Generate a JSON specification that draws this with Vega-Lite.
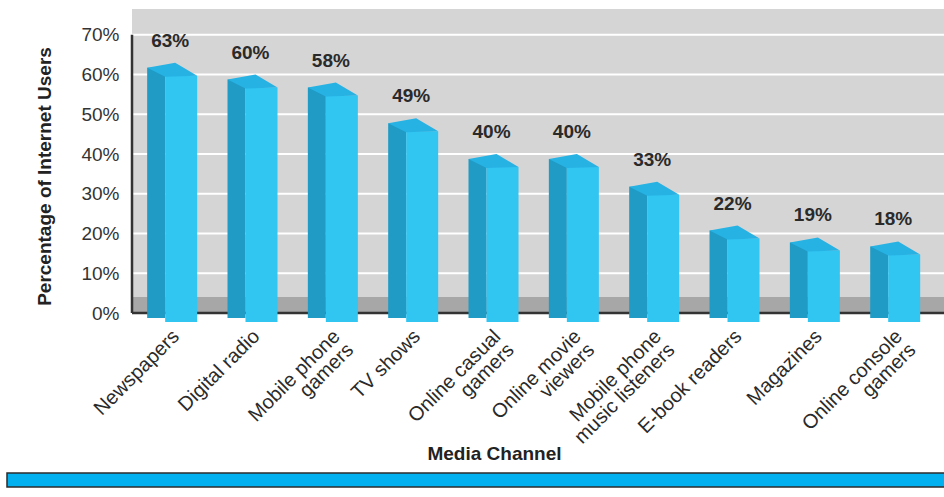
{
  "$schema": "https://vega.github.io/schema/vega-lite/v6.json",
  "background": "#ffffff",
  "padding": {"left": 6, "top": 9, "right": 0, "bottom": 0},
  "config": {"font": "Liberation Sans", "view": {"stroke": null}},
  "spacing": 9,
  "vconcat": [
    {
      "width": 938,
      "height": 304,
      "data": {
        "values": [
          {"channel": "Newspapers", "value": 0.63},
          {"channel": "Digital radio", "value": 0.60},
          {"channel": "Mobile phone\ngamers", "value": 0.58},
          {"channel": "TV shows", "value": 0.49},
          {"channel": "Online casual\ngamers", "value": 0.40},
          {"channel": "Online movie\nviewers", "value": 0.40},
          {"channel": "Mobile phone\nmusic listeners", "value": 0.33},
          {"channel": "E-book readers", "value": 0.22},
          {"channel": "Magazines", "value": 0.19},
          {"channel": "Online console\ngamers", "value": 0.18}
        ]
      },
      "layer": [
        {
          "data": {"values": [{}]},
          "mark": {"type": "rect", "color": "#d5d5d5"},
          "encoding": {
            "x": {
              "datum": "Newspapers", "type": "nominal", "bandPosition": 0,
              "scale": {
                "domain": ["Newspapers", "Digital radio", "Mobile phone\ngamers", "TV shows", "Online casual\ngamers", "Online movie\nviewers", "Mobile phone\nmusic listeners", "E-book readers", "Magazines", "Online console\ngamers"],
                "range": [125, 938], "paddingInner": 0, "paddingOuter": 0.06, "align": 0
              }
            },
            "x2": {"datum": "Online console\ngamers", "bandPosition": 1.12},
            "y": {"datum": 0, "type": "quantitative", "scale": {"domain": [0, 0.765], "nice": false}},
            "y2": {"datum": 0.765}
          }
        },
        {
          "data": {"values": [{"g": 0.1}, {"g": 0.2}, {"g": 0.3}, {"g": 0.4}, {"g": 0.5}, {"g": 0.6}, {"g": 0.7}]},
          "mark": {"type": "rule", "color": "#ffffff", "strokeWidth": 2},
          "encoding": {
            "y": {"field": "g", "type": "quantitative"}
          }
        },
        {
          "data": {"values": [{}]},
          "mark": {"type": "rect", "color": "#a7a7a7"},
          "encoding": {
            "x": {"datum": "Newspapers", "type": "nominal", "bandPosition": 0},
            "x2": {"datum": "Online console\ngamers", "bandPosition": 1.12},
            "y": {"datum": 0, "type": "quantitative"},
            "y2": {"datum": 0.04}
          }
        },
        {
          "data": {"values": [{}]},
          "mark": {"type": "rule", "color": "#333", "strokeWidth": 2.5},
          "encoding": {
            "x": {"datum": "Newspapers", "type": "nominal", "bandPosition": 0},
            "y": {"datum": 0, "type": "quantitative"},
            "y2": {"datum": 0.7}
          }
        },
        {
          "data": {"values": [{}]},
          "mark": {"type": "rule", "color": "#333", "strokeWidth": 2.5},
          "encoding": {
            "x": {"datum": "Newspapers", "type": "nominal", "bandPosition": 0},
            "x2": {"datum": "Online console\ngamers", "bandPosition": 1.12},
            "y": {"datum": 0, "type": "quantitative"}
          }
        },
        {
          "mark": {"type": "bar", "color": "#1f9bc5", "width": 18, "xOffset": -16, "yOffset": 5, "y2Offset": 5},
          "encoding": {
            "x": {
              "field": "channel", "type": "nominal", "sort": null,
              "axis": {
                "zindex": 1,
                "title": "Media Channel",
                "titleFontSize": 19, "titleFontWeight": "bold", "titleColor": "#222",
                "titleX": 487, "titleY": 140, "titleBaseline": "middle", "titleAlign": "center",
                "labelAngle": -45, "labelAlign": "right", "labelBaseline": "middle",
                "labelFontSize": 20, "labelColor": "#2a2a2a", "labelPadding": 20, "labelOffset": 4,
                "labelExpr": "split(datum.label, '\\n')", "labelLineHeight": 19,
                "ticks": false, "domain": false, "grid": false
              }
            },
            "y": {
              "field": "value", "type": "quantitative",
              "axis": {
                "zindex": 1,
                "values": [0, 0.1, 0.2, 0.3, 0.4, 0.5, 0.6, 0.7],
                "format": ".0%",
                "offset": -125,
                "title": "Percentage of Internet Users",
                "titleFontSize": 19, "titleFontWeight": "bold", "titleColor": "#222",
                "titleX": -88, "titleY": 167, "titleAngle": -90, "titleBaseline": "middle", "titleAlign": "center",
                "labelFontSize": 19, "labelColor": "#333", "labelPadding": 13,
                "ticks": false, "domain": false, "grid": false
              }
            },
            "y2": {"datum": 0}
          }
        },
        {
          "mark": {"type": "bar", "color": "#31c5f2", "width": 32, "xOffset": 9, "yOffset": 13, "y2Offset": 9},
          "encoding": {
            "x": {"field": "channel", "type": "nominal", "sort": null},
            "y": {"field": "value", "type": "quantitative"},
            "y2": {"datum": 0}
          }
        },
        {
          "mark": {"type": "point", "shape": "M -1 0.2 L 0.12 0 L 1 0.52 L -0.28 0.56 Z", "size": 2500, "filled": true, "color": "#27b2e4", "opacity": 1, "strokeWidth": 0},
          "encoding": {
            "x": {"field": "channel", "type": "nominal", "sort": null},
            "y": {"field": "value", "type": "quantitative"}
          }
        },
        {
          "mark": {"type": "text", "fontSize": 19, "fontWeight": "bold", "color": "#2a2a2a", "dy": -22, "dx": -2, "baseline": "middle"},
          "encoding": {
            "x": {"field": "channel", "type": "nominal", "sort": null},
            "y": {"field": "value", "type": "quantitative"},
            "text": {"field": "value", "type": "quantitative", "format": ".0%"}
          }
        }
      ]
    },
    {
      "width": 938,
      "height": 14,
      "data": {"values": [{}]},
      "mark": {"type": "rect", "color": "#00b0ef", "stroke": "#2b2b2b", "strokeWidth": 1.5},
      "encoding": {}
    }
  ]
}
